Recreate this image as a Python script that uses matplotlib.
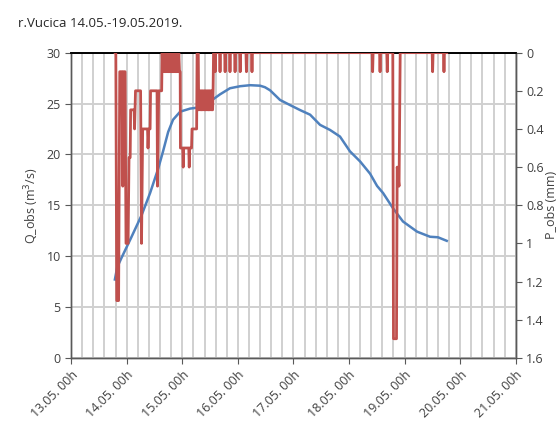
import numpy as np
import pandas as pd
import matplotlib
matplotlib.use("Agg")
import matplotlib.pyplot as plt
import matplotlib.dates as mdates
from matplotlib.ticker import MultipleLocator, FixedLocator

# ===== data (hours after 13.05.2019 00h) =====
start = pd.Timestamp("2019-05-13 00:00")

q_hours = [18.9, 19.9, 21.7, 25.9, 30.4, 34.1, 37.6, 39.7, 41.9, 44.0,
           47.1, 51.4, 54.8, 57.8, 60.0, 64.3, 68.6, 73.0, 77.3, 81.6,
           83.7, 85.9, 90.2, 94.5, 98.9, 103.2, 107.5, 111.8, 116.1, 120.4,
           124.8, 129.1, 132.1, 134.7, 139.0, 143.3, 149.4, 155.0, 158.4, 162.2]
q_obs = [7.7, 8.9, 9.8, 11.8, 14.0, 16.2, 18.6, 20.3, 22.2, 23.4,
         24.2, 24.5, 24.6, 24.7, 25.2, 25.9, 26.5, 26.7, 26.8, 26.75,
         26.6, 26.3, 25.35, 24.85, 24.35, 23.9, 22.9, 22.4, 21.75, 20.3,
         19.3, 18.1, 16.9, 16.2, 14.7, 13.4, 12.4, 11.9, 11.85, 11.5]

p_hours = [19.0, 19.3, 19.7, 20.5, 21.0, 22.0, 22.3, 22.6, 23.3, 23.7,
           24.6, 25.0, 25.5, 25.7, 27.2, 27.4, 27.6, 27.8, 30.0, 30.4,
           30.9, 33.0, 33.2, 33.5, 34.1, 34.3, 37.1, 37.3, 37.8, 39.1,
           39.3, 39.6, 39.9, 40.2, 40.5, 40.8, 41.1, 41.4, 41.7, 42.0,
           42.3, 42.6, 42.9, 43.2, 43.5, 43.8, 44.1, 44.4, 44.7, 45.0,
           45.3, 45.6, 45.9, 46.2, 46.5, 46.8, 47.1,
           47.2, 48.2, 48.4, 48.6, 50.8, 51.0, 51.2, 52.0, 52.2, 54.2,
           54.4, 54.9, 55.1, 55.4, 55.7, 56.0, 56.3, 56.6, 56.9, 57.2,
           57.5, 57.8, 58.1, 58.4, 58.7, 59.0, 59.3, 59.6, 59.9, 60.2,
           60.5, 60.8, 61.1, 61.3, 61.5,
           62.0, 62.2, 62.4, 64.1, 64.3, 64.5, 66.3, 66.5, 66.7, 68.4,
           68.6, 68.8, 70.6, 70.8, 71.0, 72.8, 73.0, 73.2, 75.5, 75.7,
           75.9, 77.9, 78.1, 78.3,
           130.0, 130.2, 130.4, 133.2, 133.4, 133.6, 136.3, 136.5, 136.7,
           138.9, 139.2, 140.5, 140.8, 141.6, 142.1,
           155.9, 156.1, 156.3, 160.8, 161.0, 161.2, 162.2]
p_obs = [0, 0, 1.3, 1.3, 0.1, 0.1, 0.7, 0.1, 0.1, 1.0,
         1.0, 0.55, 0.55, 0.3, 0.3, 0.4, 0.3, 0.2, 0.2, 1.0,
         0.4, 0.4, 0.5, 0.4, 0.4, 0.2, 0.2, 0.7, 0.2, 0.2,
         0, 0.1, 0, 0.1, 0, 0.1, 0, 0.1, 0, 0.1,
         0, 0.1, 0, 0.1, 0, 0.1, 0, 0.1, 0, 0.1,
         0, 0.1, 0, 0.1, 0, 0.1, 0.1,
         0.5, 0.5, 0.6, 0.5, 0.5, 0.6, 0.5, 0.5, 0.4, 0.4,
         0, 0, 0.3, 0.2, 0.3, 0.2, 0.3, 0.2, 0.3, 0.2,
         0.3, 0.2, 0.3, 0.2, 0.3, 0.2, 0.3, 0.2, 0.3, 0.2,
         0.3, 0.2, 0.3, 0.2, 0,
         0, 0.1, 0, 0, 0.1, 0, 0, 0.1, 0, 0,
         0.1, 0, 0, 0.1, 0, 0, 0.1, 0, 0, 0.1,
         0, 0, 0.1, 0,
         0, 0.1, 0, 0, 0.1, 0, 0, 0.1, 0,
         0, 1.5, 1.5, 0.6, 0.7, 0,
         0, 0.1, 0, 0, 0.1, 0, 0]

q_time = start + pd.to_timedelta(q_hours, unit="h")
p_time = start + pd.to_timedelta(p_hours, unit="h")

plt.rcParams['font.family'] = ['Open Sans', 'DejaVu Sans']
text_col = "#404040"

fig = plt.figure(figsize=(5.6, 4.28), dpi=100)
ax = fig.add_axes([0.127, 0.164, 0.794, 0.713])

ax.plot(q_time, q_obs, color="#4F81BD", linewidth=1.8, zorder=3)

ax.set_xlim(pd.Timestamp("2019-05-13"), pd.Timestamp("2019-05-21"))
ax.set_ylim(0, 30)
ax.yaxis.set_major_locator(MultipleLocator(5))
ax.xaxis.set_major_locator(mdates.DayLocator())
ax.xaxis.set_major_formatter(mdates.DateFormatter("%d.%m. %Hh"))
ax.xaxis.set_minor_locator(MultipleLocator(0.2))
ax.grid(True, which="both", axis="x", color="#D0D0D0", linewidth=1.4)
ax.grid(True, which="major", axis="y", color="#D0D0D0", linewidth=1.4)
ax.set_axisbelow(True)
ax.tick_params(axis="x", which="minor", length=0)
ax.tick_params(axis="both", which="major", length=4, color="#595959",
               labelsize=9, labelcolor=text_col)
plt.setp(ax.get_xticklabels(), rotation=45, ha="right", rotation_mode="anchor")
ax.set_ylabel("Q_obs (m$^3$/s)", fontsize=9, color=text_col)

ax2 = ax.twinx()
ax2.plot(p_time, p_obs, color="#C0504D", linewidth=2.0, zorder=4)
ax2.set_ylim(1.6, 0)
ax2.yaxis.set_major_locator(FixedLocator([0, 0.2, 0.4, 0.6, 0.8, 1.0, 1.2, 1.4, 1.6]))
ax2.yaxis.set_major_formatter(plt.FuncFormatter(lambda v, p: f"{v:g}"))
ax2.tick_params(axis="y", length=4, color="#595959", labelsize=9, labelcolor=text_col)
ax2.set_ylabel("P_obs (mm)", fontsize=9, color=text_col, labelpad=1)

for a in (ax, ax2):
    for side in ("left", "right", "bottom"):
        a.spines[side].set_color("#595959")
        a.spines[side].set_linewidth(1.0)
    a.spines["top"].set_color("black")
    a.spines["top"].set_linewidth(1.2)

fig.text(0.032, 0.945, "r.Vucica 14.05.-19.05.2019.", fontsize=9.5,
         color="#262626", va="center", ha="left")

fig.savefig("out.png", dpi=100)
